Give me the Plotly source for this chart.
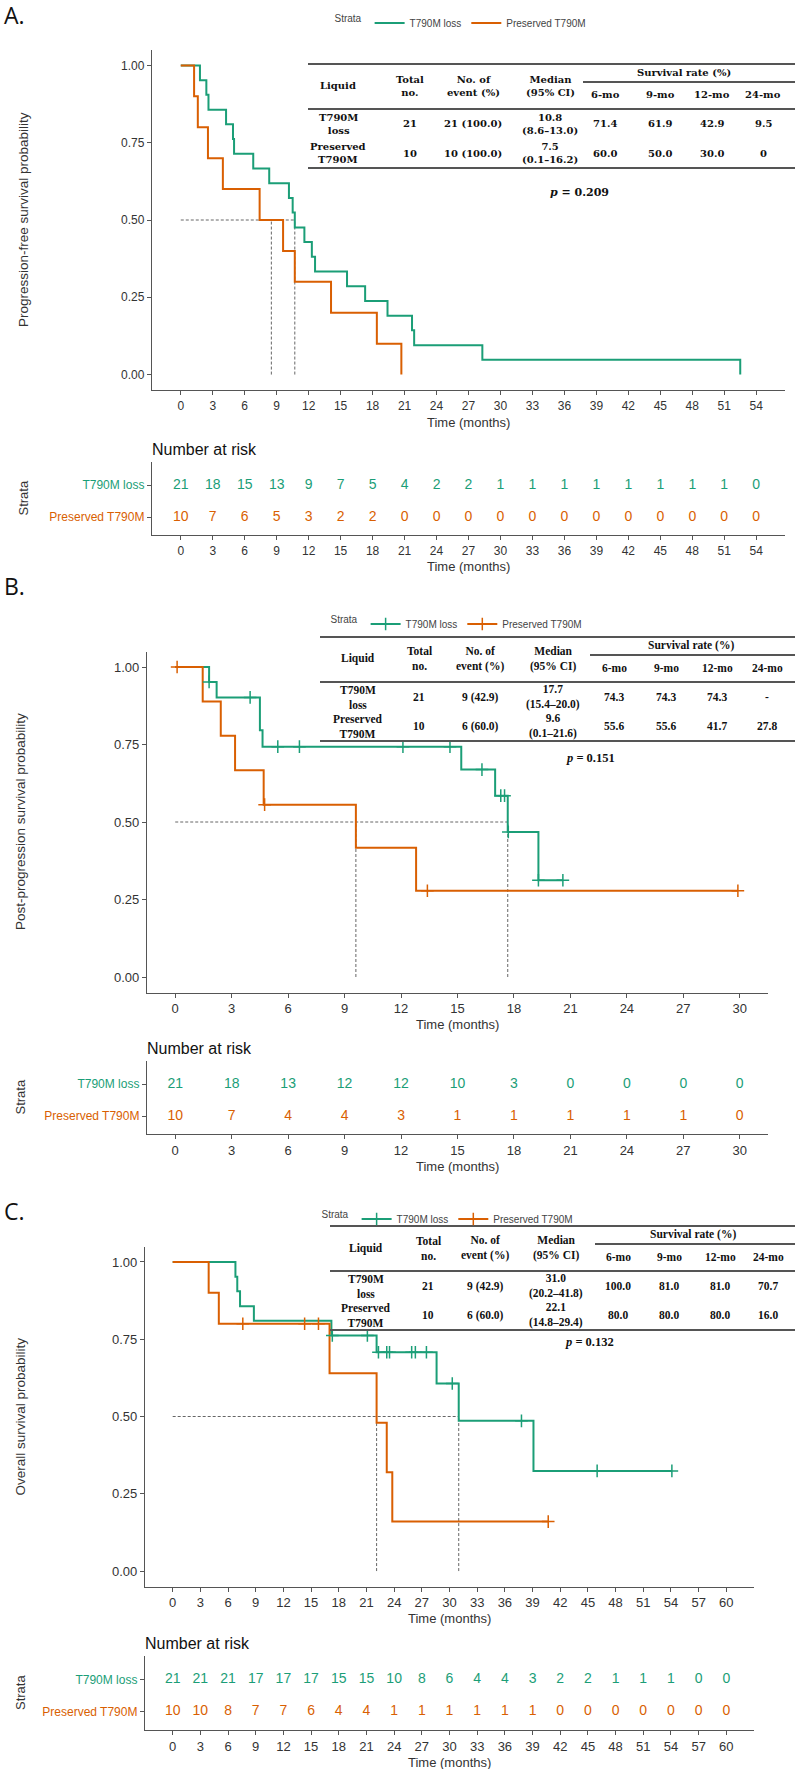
import plotly.graph_objects as go

W, H = 795, 1769
GREEN = "#1b9e77"
ORANGE = "#d95f02"
SANS = "Liberation Sans, Arial, sans-serif"
NARROW = "Liberation Sans Narrow, Liberation Sans, Arial Narrow, sans-serif"
SERIF = "Liberation Serif, Times New Roman, serif"
WIDE_SERIF = "DejaVu Serif, Liberation Serif, serif"
AXIS = "#555555"
TEXT = "#333333"

strata = ["T790M loss", "Preserved T790M"]

# ---- A. progression-free survival (months / survival probability)
pfs_loss_t = [0, 1.8, 2.4, 2.6, 4.25, 4.9, 5.0, 6.8, 8.3, 10.15, 10.5, 10.7, 11.6, 12.3,
              12.6, 15.6, 17.3, 19.4, 21.7, 21.9, 28.3, 52.5]
pfs_loss_s = [1.0, 0.952, 0.905, 0.857, 0.810, 0.762, 0.714, 0.667, 0.619, 0.571, 0.524,
              0.476, 0.429, 0.381, 0.333, 0.286, 0.238, 0.190, 0.143, 0.095, 0.048, 0.0]
pfs_pres_t = [0, 1.25, 1.6, 2.55, 3.95, 7.4, 9.6, 10.7, 14.1, 18.4, 20.7]
pfs_pres_s = [1.0, 0.9, 0.8, 0.7, 0.6, 0.5, 0.4, 0.3, 0.2, 0.1, 0.0]
pfs_medians = [10.7, 8.5]
pfs_risk_t = [0, 3, 6, 9, 12, 15, 18, 21, 24, 27, 30, 33, 36, 39, 42, 45, 48, 51, 54]
pfs_risk_loss = [21, 18, 15, 13, 9, 7, 5, 4, 2, 2, 1, 1, 1, 1, 1, 1, 1, 1, 0]
pfs_risk_pres = [10, 7, 6, 5, 3, 2, 2, 0, 0, 0, 0, 0, 0, 0, 0, 0, 0, 0, 0]

# ---- B. post-progression survival
pps_loss_t = [0, 1.8, 2.2, 4.5, 4.64, 15.2, 17.0, 17.67, 19.3, 20.6]
pps_loss_s = [1.0, 0.952, 0.902, 0.796, 0.743, 0.669, 0.585, 0.468, 0.312, 0.312]
pps_loss_cens_t = [1.8, 3.98, 5.45, 6.6, 12.1, 14.6, 16.3, 17.3, 17.5, 17.7, 19.3, 20.6]
pps_loss_cens_s = [0.952, 0.902, 0.743, 0.743, 0.743, 0.743, 0.669, 0.585, 0.585, 0.468, 0.312, 0.312]
pps_pres_t = [0, 1.46, 2.42, 3.18, 4.7, 9.6, 12.8, 29.9]
pps_pres_s = [1.0, 0.889, 0.778, 0.667, 0.556, 0.417, 0.278, 0.278]
pps_pres_cens_t = [0.1, 4.75, 13.4, 29.9]
pps_pres_cens_s = [1.0, 0.556, 0.278, 0.278]
pps_medians = [17.67, 9.6]
pps_risk_t = [0, 3, 6, 9, 12, 15, 18, 21, 24, 27, 30]
pps_risk_loss = [21, 18, 13, 12, 12, 10, 3, 0, 0, 0, 0]
pps_risk_pres = [10, 7, 4, 4, 3, 1, 1, 1, 1, 1, 0]

# ---- C. overall survival
os_loss_t = [0, 6.8, 7.0, 7.3, 8.8, 17.2, 22.1, 28.6, 31.0, 39.1, 54.1]
os_loss_s = [1.0, 0.952, 0.905, 0.857, 0.810, 0.762, 0.708, 0.607, 0.486, 0.324, 0.324]
os_loss_cens_t = [17.3, 21.1, 22.3, 23.2, 23.5, 25.9, 26.3, 27.5, 30.3, 37.8, 46.0, 54.1]
os_loss_cens_s = [0.762, 0.762, 0.708, 0.708, 0.708, 0.708, 0.708, 0.708, 0.607, 0.486, 0.324, 0.324]
os_pres_t = [0, 3.9, 5.0, 17.0, 22.1, 23.2, 23.8, 40.7]
os_pres_s = [1.0, 0.9, 0.8, 0.64, 0.48, 0.32, 0.16, 0.16]
os_pres_cens_t = [7.6, 14.3, 15.8, 40.7]
os_pres_cens_s = [0.8, 0.8, 0.8, 0.16]
os_medians = [31.0, 22.1]
os_risk_t = [0, 3, 6, 9, 12, 15, 18, 21, 24, 27, 30, 33, 36, 39, 42, 45, 48, 51, 54, 57, 60]
os_risk_loss = [21, 21, 21, 17, 17, 17, 15, 15, 10, 8, 6, 4, 4, 3, 2, 2, 1, 1, 1, 0, 0]
os_risk_pres = [10, 10, 8, 7, 7, 6, 4, 4, 1, 1, 1, 1, 1, 1, 0, 0, 0, 0, 0, 0, 0]

# ---- summary tables
table_header = ["Liquid", "Total<br>no.", "No. of<br>event (%)", "Median<br>(95% CI)",
                "6-mo", "9-mo", "12-mo", "24-mo"]
pfs_table = [["T790M<br>loss", "21", "21 (100.0)", "10.8<br>(8.6–13.0)", "71.4", "61.9", "42.9", "9.5"],
             ["Preserved<br>T790M", "10", "10 (100.0)", "7.5<br>(0.1–16.2)", "60.0", "50.0", "30.0", "0"]]
pps_table = [["T790M<br>loss", "21", "9 (42.9)", "17.7<br>(15.4–20.0)", "74.3", "74.3", "74.3", "-"],
             ["Preserved<br>T790M", "10", "6 (60.0)", "9.6<br>(0.1–21.6)", "55.6", "55.6", "41.7", "27.8"]]
os_table = [["T790M<br>loss", "21", "9 (42.9)", "31.0<br>(20.2–41.8)", "100.0", "81.0", "81.0", "70.7"],
            ["Preserved<br>T790M", "10", "6 (60.0)", "22.1<br>(14.8–29.4)", "80.0", "80.0", "80.0", "16.0"]]
p_values = ["0.209", "0.151", "0.132"]

panels = [
    dict(label="A.", label_y=15, ytitle="Progression-free survival probability",
         loss=(pfs_loss_t, pfs_loss_s), pres=(pfs_pres_t, pfs_pres_s), cens=None,
         medians=pfs_medians, risk_t=pfs_risk_t, risk=(pfs_risk_loss, pfs_risk_pres),
         table=pfs_table, p=p_values[0],
         xdom=(152, 785), main=(50, 390), riskdom=(462, 535), xr=(-2.7, 56.7),
         font=SANS, tick=12, ytitle_x=23, legend=(462, 23),
         tab_font=(WIDE_SERIF, 10),
         tab_x=(308, 583, 795), tab_top=64, cols=[338, 410, 473, 550, 605, 660, 712, 763],
         p_pos=(579, 193)),
    dict(label="B.", label_y=586, ytitle="Post-progression survival probability",
         loss=(pps_loss_t, pps_loss_s), pres=(pps_pres_t, pps_pres_s),
         cens=((pps_loss_cens_t, pps_loss_cens_s), (pps_pres_cens_t, pps_pres_cens_s)),
         medians=pps_medians, risk_t=pps_risk_t, risk=(pps_risk_loss, pps_risk_pres),
         table=pps_table, p=p_values[1],
         xdom=(147, 768), main=(651.5, 992.5), riskdom=(1061, 1134), xr=(-1.5, 31.5),
         font=NARROW, tick=13, ytitle_x=20, legend=(458, 624),
         tab_font=(SERIF, 11.5),
         tab_x=(320, 590, 795), tab_top=637, cols=[358, 419, 480, 553, 614, 666, 717, 767],
         p_pos=(590, 758)),
    dict(label="C.", label_y=1211, ytitle="Overall survival probability",
         loss=(os_loss_t, os_loss_s), pres=(os_pres_t, os_pres_s),
         cens=((os_loss_cens_t, os_loss_cens_s), (os_pres_cens_t, os_pres_cens_s)),
         medians=os_medians, risk_t=os_risk_t, risk=(os_risk_loss, os_risk_pres),
         table=os_table, p=p_values[2],
         xdom=(145, 754), main=(1246.5, 1586.5), riskdom=(1656, 1730), xr=(-3, 63),
         font=NARROW, tick=13, ytitle_x=20, legend=(449, 1219),
         tab_font=(SERIF, 11.5),
         tab_x=(330, 595, 795), tab_top=1226, cols=[366, 428, 485, 556, 618, 669, 720, 768],
         p_pos=(589, 1342)),
]


def fx(x):
    return x / W


def fy(y):
    return 1 - y / H


fig = go.Figure()
annotations = []
shapes = []
layout = {}


def text(x, y, s, size, color=TEXT, family=SANS, xanchor="center", angle=0):
    annotations.append(dict(x=fx(x), y=fy(y), xref="paper", yref="paper", text=s,
                            showarrow=False, xanchor=xanchor, yanchor="middle",
                            textangle=angle, font=dict(size=size, color=color, family=family)))


def hline(x0, x1, y, width=2):
    shapes.append(dict(type="line", xref="paper", yref="paper", x0=fx(x0), x1=fx(x1),
                       y0=fy(y), y1=fy(y), line=dict(color="#555555", width=width)))


for i, p in enumerate(panels):
    nm, nr = 2 * i + 1, 2 * i + 2
    xm = "x" if nm == 1 else f"x{nm}"
    ym = "y" if nm == 1 else f"y{nm}"
    xr_, yr_ = f"x{nr}", f"y{nr}"
    leg = "legend" if i == 0 else f"legend{i + 1}"

    # median reference lines
    med = p["medians"]
    fig.add_trace(go.Scatter(
        x=[0, max(med), None, med[0], med[0], None, med[1], med[1]],
        y=[0.5, 0.5, None, 0, 0.5, None, 0, 0.5],
        mode="lines", line=dict(color="#666666", width=1, dash="3px,2px"),
        xaxis=xm, yaxis=ym, showlegend=False, hoverinfo="skip"))

    # step curves
    for (t, s), name, col in ((p["loss"], strata[0], GREEN), (p["pres"], strata[1], ORANGE)):
        fig.add_trace(go.Scatter(x=t, y=s, mode="lines", line=dict(color=col, width=2, shape="hv"),
                                 name=name, xaxis=xm, yaxis=ym, legend=leg,
                                 showlegend=(p["cens"] is None)))
    if p["cens"] is not None:
        for (t, s), name, col in ((p["cens"][0], strata[0], GREEN), (p["cens"][1], strata[1], ORANGE)):
            fig.add_trace(go.Scatter(x=t, y=s, mode="markers",
                                     marker=dict(symbol="cross-thin", size=9, color=col,
                                                 line=dict(color=col, width=1.5)),
                                     xaxis=xm, yaxis=ym, showlegend=False))
            fig.add_trace(go.Scatter(x=[None], y=[None], mode="lines+markers", name=name,
                                     line=dict(color=col, width=2),
                                     marker=dict(symbol="cross-thin", size=9, color=col,
                                                 line=dict(color=col, width=1.5)),
                                     xaxis=xm, yaxis=ym, legend=leg))

    # number at risk
    for vals, name, col in ((p["risk"][0], strata[0], GREEN), (p["risk"][1], strata[1], ORANGE)):
        fig.add_trace(go.Scatter(x=p["risk_t"], y=[name] * len(vals), mode="text",
                                 text=[str(v) for v in vals],
                                 textfont=dict(size=14, color=col, family=p["font"]),
                                 xaxis=xr_, yaxis=yr_, showlegend=False, hoverinfo="skip"))

    xaxis_common = dict(domain=[fx(p["xdom"][0]), fx(p["xdom"][1])], range=list(p["xr"]),
                        tickmode="array", tickvals=p["risk_t"], ticks="outside", ticklen=4,
                        tickcolor=AXIS, showline=True, linecolor=AXIS, linewidth=1.3,
                        showgrid=False, zeroline=False,
                        tickfont=dict(size=p["tick"], color=TEXT, family=p["font"]))
    layout["xaxis" if nm == 1 else f"xaxis{nm}"] = dict(xaxis_common, anchor=ym)
    layout[f"xaxis{nr}"] = dict(xaxis_common, anchor=yr_)
    layout["yaxis" if nm == 1 else f"yaxis{nm}"] = dict(
        domain=[fy(p["main"][1]), fy(p["main"][0])], range=[-0.05, 1.05], anchor=xm,
        tickmode="array", tickvals=[0, 0.25, 0.5, 0.75, 1.0], tickformat=".2f",
        ticks="outside", ticklen=4, tickcolor=AXIS, showline=True, linecolor=AXIS,
        linewidth=1.3, showgrid=False, zeroline=False,
        tickfont=dict(size=p["tick"], color=TEXT, family=p["font"]))
    layout[f"yaxis{nr}"] = dict(
        domain=[fy(p["riskdom"][1]), fy(p["riskdom"][0])], anchor=xr_, type="category",
        categoryorder="array", categoryarray=[strata[1], strata[0]], range=[-0.56, 1.72],
        tickmode="array", tickvals=[strata[1], strata[0]],
        ticktext=[f"<span style='color:{ORANGE}'>{strata[1]}</span>",
                  f"<span style='color:{GREEN}'>{strata[0]}</span>"],
        ticks="outside", ticklen=4, tickcolor=AXIS, showline=True, linecolor=AXIS,
        linewidth=1.3, showgrid=False, zeroline=False,
        tickfont=dict(size=12, family=p["font"]))

    lx, ly = p["legend"]
    layout[leg] = dict(x=fx(lx), y=fy(ly), xanchor="center", yanchor="middle",
                       orientation="h", bgcolor="rgba(0,0,0,0)", itemwidth=30,
                       title=dict(text="Strata", side="left",
                                  font=dict(size=10, color="#444", family=p["font"])),
                       font=dict(size=10, color="#444", family=p["font"]))

    # titles
    x0, x1 = p["xdom"]
    text(2, p["label_y"], p["label"], 23, color="#111", family="Open Sans", xanchor="left")
    mt, mb = p["main"]
    text(p["ytitle_x"], (mt + mb) / 2, p["ytitle"], 13.5, family=SANS, angle=-90)
    text((x0 + x1) / 2, mb + 32, "Time (months)", 13, family=p["font"])
    rt, rb = p["riskdom"]
    text(x0 - 2, rt - 13, "Number at risk", 16, color="#111", family=p["font"], xanchor="left")
    text(p["ytitle_x"], (rt + rb) / 2, "Strata", 13, family=SANS, angle=-90)
    text((x0 + x1) / 2, rb + 32, "Time (months)", 13, family=p["font"])

    # summary table
    tfam, tsize = p["tab_font"]

    def cell(x, y, s):
        text(x, y, "<b>" + s + "</b>", tsize, color="#111", family=tfam)

    tx0, tsub, tx1 = p["tab_x"]
    top = p["tab_top"]
    cols = p["cols"]
    hline(tx0, tx1, top)
    hline(tsub, tx1, top + 18)
    hline(tx0, tx1, top + 45)
    hline(tx0, tx1, top + 104)
    for k, h in enumerate(table_header):
        cell(cols[k], top + (31 if k >= 4 else 22), h)
    cell((cols[4] + cols[7]) / 2, top + 8, "Survival rate (%)")
    for r, row in enumerate(p["table"]):
        for k, v in enumerate(row):
            cell(cols[k], top + 60 + 29 * r, v)
    text(p["p_pos"][0], p["p_pos"][1], "<b><i>p</i> = " + p["p"] + "</b>", tsize + 1,
         color="#111", family=tfam)

fig.update_layout(width=W, height=H, margin=dict(l=0, r=0, t=0, b=0),
                  paper_bgcolor="white", plot_bgcolor="white",
                  annotations=annotations, shapes=shapes, **layout)

fig.write_html("out.html", config={"displayModeBar": False},
               post_script="document.body.style.margin='0';document.body.style.overflow='hidden';")
